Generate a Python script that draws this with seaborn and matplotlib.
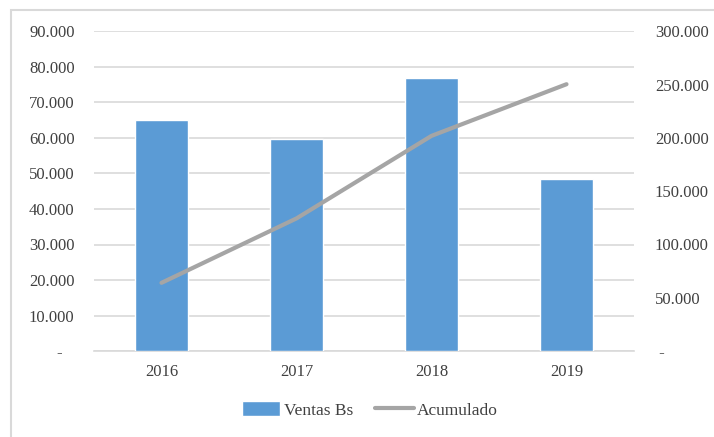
"""
Ventas Bs por año (barras) y acumulado (línea, eje derecho)
"""
import numpy as np
import pandas as pd
import matplotlib
matplotlib.use("Agg")
import matplotlib.pyplot as plt
from matplotlib.patches import Rectangle
from matplotlib.ticker import FuncFormatter, MultipleLocator
import seaborn as sns

# Data
years = ["2016", "2017", "2018", "2019"]
ventas = [65000, 59700, 76900, 48400]
acumulado = [64000, 124500, 202000, 250500]

BAR_COLOR = "#5B9BD5"
LINE_COLOR = "#A5A5A5"
GRID_COLOR = "#D9D9D9"
TEXT_COLOR = "#404040"


def fmt_left(v, pos):
    if abs(v) < 1e-9:
        return "-   "
    return f"{v:,.0f}".replace(",", ".")


def fmt_right(v, pos):
    if abs(v) < 1e-9:
        return " -"
    return f"{v:,.0f}".replace(",", ".")


sns.set_theme(style="white")
plt.rcParams["font.family"] = ["Liberation Serif", "DejaVu Serif"]

df = pd.DataFrame({"year": years, "ventas": ventas, "acumulado": acumulado})

fig = plt.figure(figsize=(7.14, 4.37), dpi=100)
ax = fig.add_axes([94 / 714, 1 - 351 / 437, 540 / 714, 319.5 / 437])

sns.barplot(data=df, x="year", y="ventas", color=BAR_COLOR, width=0.39,
            saturation=1, ax=ax, label="Ventas Bs", zorder=3, legend=False)
ax.set_ylim(0, 90000)
ax.yaxis.set_major_locator(MultipleLocator(10000))
ax.yaxis.set_major_formatter(FuncFormatter(fmt_left))
ax.grid(axis="y", color=GRID_COLOR, linewidth=1.2, zorder=0)
ax.set_axisbelow(True)
ax.set_xlabel("")
ax.set_ylabel("")
for side in ["top", "left", "right"]:
    ax.spines[side].set_visible(False)
ax.spines["bottom"].set_color(GRID_COLOR)
ax.spines["bottom"].set_linewidth(1.2)
ax.tick_params(axis="both", length=0, labelsize=12, colors=TEXT_COLOR)
ax.tick_params(axis="y", pad=14)
ax.tick_params(axis="x", pad=9)

ax2 = ax.twinx()
ax2.plot(np.arange(len(years)), df["acumulado"], color=LINE_COLOR,
         linewidth=3, solid_capstyle="round", label="Acumulado", zorder=4)
ax2.set_ylim(0, 300000)
ax2.yaxis.set_major_locator(MultipleLocator(50000))
ax2.yaxis.set_major_formatter(FuncFormatter(fmt_right))
ax2.tick_params(axis="y", length=0, labelsize=12, colors=TEXT_COLOR, pad=15)
for side in ["top", "left", "right", "bottom"]:
    ax2.spines[side].set_visible(False)
ax2.grid(False)
ax2.set_ylabel("")
ax.set_xlim(-0.5, len(years) - 0.5)

if ax.get_legend() is not None:
    ax.get_legend().remove()

# legend
h1, l1 = ax.get_legend_handles_labels()
h2, l2 = ax2.get_legend_handles_labels()
fig.legend(h1 + h2, l1 + l2, loc="center", bbox_to_anchor=(370 / 714, 1 - 410 / 437),
           ncol=2, frameon=False, fontsize=12.5, handlelength=2.2, handletextpad=0.2,
           columnspacing=1.3, labelcolor=TEXT_COLOR, handleheight=0.9)

# chart frame
fig.patches.append(Rectangle((11 / 714, -0.05), 1.0, 1 - 10 / 437 + 0.05,
                             transform=fig.transFigure, fill=False,
                             edgecolor=GRID_COLOR, linewidth=1.5))

fig.savefig("out.png", dpi=100)
plt.close(fig)
